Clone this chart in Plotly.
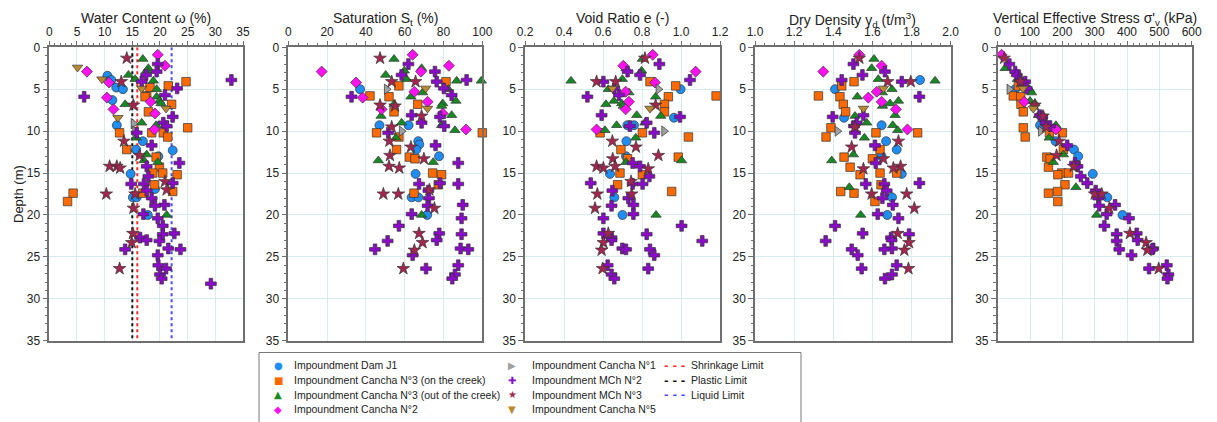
import plotly.graph_objects as go

# Page body has an 8px default margin: figure is sized/offset so it lands on the 1217x422 window.
WIN_W, WIN_H, PAGE_MARGIN = 1217, 422, 8
W, H = WIN_W - PAGE_MARGIN, WIN_H - PAGE_MARGIN

# ---------------- DATA ----------------
# Impoundment Dam J1
dam_depth = [3.4, 3.9, 4.8, 5.0, 6.3, 8.4, 9.3, 9.3, 11.2, 11.6, 12.2, 12.3, 13.0, 14.2, 15.1, 16.9, 17.9, 17.9, 20.0]
dam_w     = [10.5, 11.2, 12.1, 13.3, 11.4, None, 12.2, None, 16.9, None, 15.7, 22.3, 19.7, None, 14.7, 19.1, 15.1, 15.8, 17.8]
dam_S     = [None, None, None, 37, None, None, 47, 62, 67, 67.5, 66, None, 77.7, None, 65.6, None, 63.6, 67, 71.6]
dam_e     = [None, None, None, 0.998, None, 0.964, 0.725, 0.759, 0.72, None, None, None, 0.718, None, 0.636, None, 0.658, None, 0.70]
dam_gd    = [None, 1.843, None, 1.409, None, 1.455, 1.647, None, 1.67, None, 1.724, None, 1.647, None, 1.75, None, 1.70, None, 1.676]
dam_sv    = [None, None, None, 54, None, None, 131, None, 179, None, 236, None, 249, 244, 294, None, 339, None, 386]

# Impoundment Cancha N°3 (on the creek)
c3on_depth = [4.1, 4.6, 4.8, 5.8, 5.9, 6.8, 7.7, 9.6, 10.2, 10.2, 10.2, 10.7, 12.2, 13.1, 13.3, 14.3, 15.0, 15.0, 15.2, 16.4, 17.2, 17.4, 17.4, 18.4]
c3on_w  = [24.7, 21.5, 18.2, 17.6, 17.3, 22.1, 17.9, 25.0, 12.7, 18.5, 20.6, 21.4, 14.0, 19.3, None, 19.9, 18.7, 20.5, 23.1, 19.0, 22.3, 16.9, 4.3, 3.3]
c3on_S  = [81.3, 57.0, None, 42.1, 51.9, 66.7, 54.5, None, 45.5, None, 100, 57.0, 55.8, 62.4, 65.3, None, 74.4, None, 79.0, 77.3, None, 64.8, None, None]
c3on_e  = [0.841, 0.973, None, 1.18, 0.935, 0.915, 0.915, None, 0.585, 0.802, None, 1.038, 0.692, 0.986, 0.726, None, 0.687, None, 0.802, 0.675, 0.952, None, None, None]
c3on_gd = [1.506, 1.443, None, 1.324, 1.434, 1.451, 1.463, 1.388, 1.618, 1.831, None, 1.363, 1.639, 1.455, 1.60, 1.486, 1.639, 1.724, 1.537, 1.644, 1.438, 1.506, None, 1.613]
c3on_sv = [None, 64, None, 48, 71, 72, 79, 79, 160, 200, None, 85, 203, 152, 162, 157, 198, 219, 186, 208, 185, 157, None, 186]

# Impoundment Cancha N°3 (out of the creek)
c3out_depth = [1.4, 2.5, 2.8, 3.3, 3.8, 4.0, 4.0, 5.0, 5.4, 5.9, 6.4, 6.7, 6.8, 7.0, 8.1, 8.2, 9.0, 9.3, 9.9, 10.8, 12.8, 13.5, 13.7, 16.7, 20.0]
c3out_w  = [16.9, 17.9, 17.6, 14.3, 15.5, 18.8, None, 19.4, None, 19.4, 19.9, 20.2, 13.7, None, None, None, 16.7, 19.3, None, 15.7, 17.6, 17.1, 19.6, None, 21.2]
c3out_S  = [54.5, 68.7, 59.8, 50.2, 61, 99.5, 86.8, 82.5, 69.2, 63.2, 86.4, 79.6, 54.5, 79.0, 84.2, 47.8, 58.4, 79.0, 85.9, 55.5, None, 46.4, 74.7, None, 68.7]
c3out_e  = [0.802, 0.718, 0.798, None, 0.699, 0.436, None, 0.627, 0.733, 0.870, 0.656, 0.696, 0.615, 0.704, 0.773, 0.896, 0.815, 0.670, 0.610, 0.768, None, 1.003, 0.718, None, 0.872]
c3out_gd = [1.608, 1.596, None, None, 1.63, 1.92, None, 1.70, 1.651, 1.523, 1.733, 1.69, None, 1.652, 1.716, 1.511, 1.571, 1.704, 1.729, 1.559, 1.503, 1.392, None, 1.482, 1.54]
c3out_sv = [None, 23, None, None, 61, None, None, 98, 105, None, 100, 115, None, None, 126, None, None, 180, None, 159, 203, None, 172, 242, 306]

# Impoundment Cancha N°2
c2_depth = [0.9, 2.2, 2.9, 2.9, 4.2, 5.3, 6.0, 6.5, 7.4, 7.9, 9.8]
c2_w  = [19.6, 20.9, 6.8, None, 10.8, None, 10.4, 18.3, 11.6, 19.1, 19.0]
c2_S  = [64.1, 82.8, 17.2, 68.4, 34.9, 65, 38.3, 71.8, 48.1, 79.6, 91.6]
c2_e  = [0.855, 0.704, 1.075, None, 0.867, 0.716, None, 0.733, 0.716, None, 0.567]
c2_gd = [1.533, 1.647, 1.349, None, None, 1.622, 1.579, 1.647, 1.72, None, 1.779]
c2_sv = [12, None, None, None, 75, None, None, 82, None, None, 180]

# Impoundment Cancha N°1
c1_depth = [5.0, 9.1, 10.0]
c1_w  = [None, 15.2, 15.5]
c1_S  = [50.7, None, 58.4]
c1_e  = [0.884, None, 0.913]
c1_gd = [None, None, 1.421]
c1_sv = [36, None, 133]

# Impoundment MCh N°2
m2_depth = [2.0, 2.9, 3.3, 3.9, 4.1, 4.9, 5.7, 5.9, 8.1, 8.3, 9.0, 9.4, 10.2, 11.7, 13.8, 14.2, 15.4, 16.2, 16.3, 16.3, 17.1,
            18.0, 18.8, 18.9, 19.9, 20.4, 21.3, 22.2, 22.3, 22.7, 23.0, 23.1, 24.0, 24.1, 24.1, 24.8, 26.0, 26.4, 27.1, 27.6, 28.2]
m2_w  = [19.6, 19.4, 17.5, 32.9, 16.7, 23.1, 20.9, 6.3, None, 22.3, 20.6, 21.2, 15.8, 18.5, 23.5, 17.6, 17.9, 22.3, 17.1, 14.8, 17.6,
         18.5, 20.8, 19.1, 17.0, 19.6, 20.5, 22.6, 20.5, 16.4, 17.6, 19.9, 21.5, 23.7, 13.7, 19.6, 19.7, 21.1, 20.0, 20.3, 29.2]
m2_S  = [61.9, 75.6, 58.4, 91.9, 76.5, 80.2, 84.2, 32.6, 63.6, 78.2, 68.7, 80.4, 51.5, 75.9, 87.6, None, None, 78.2, 67.4, 87.6, 72.2,
         72.5, 89.9, 71.8, 63.6, 89.3, 57.0, 77.8, 89.3, None, 76.5, 51.2, 88.8, 92.8, 44.7, 64.1, 87.6, 71.0, 85.9, 84.5, None]
m2_e  = [0.889, 0.726, 0.790, 1.046, 0.602, 0.658, 0.682, 0.52, 0.593, 0.995, 0.824, 0.738, 0.863, None, 0.752, 0.790, 0.838, 0.537, 0.752, 0.803, 0.648,
         0.73, 0.756, 0.644, 0.756, 0.602, 1.003, 0.602, 0.824, 0.644, 0.644, 1.109, 0.699, 0.718, 0.841, 0.863, 0.624, 0.832, 0.644, 0.658, None]
m2_gd = [1.503, 1.664, 1.549, 1.443, 1.75, None, None, 1.84, 1.554, 1.397, 1.52, 1.506, 1.511, 1.613, 1.617, None, None, 1.84, 1.566, 1.661, 1.673,
         1.651, 1.704, None, 1.627, 1.733, 1.409, 1.55, 1.787, 1.695, 1.698, 1.361, 1.70, 1.661, 1.494, 1.525, 1.724, 1.545, 1.70, 1.664, None]
m2_sv = [36, 54, 59, 69, 85, 90, None, None, 130, 138, 148, 162, None, 215, 239, 247, 257, 277, None, None, 303,
         311, 363, 314, 337, 406, 330, 430, 368, None, 433, 368, 481, 376, 478, 414, 523, 468, 528, 525, None]

# Impoundment MCh N°3
m3_depth = [1.3, 4.1, 4.1, 6.9, 7.0, 8.2, 9.5, 11.2, 11.9, 12.9, 13.3, 14.2, 14.2, 14.4, 14.5, 16.0, 17.0, 17.5, 17.5, 19.2, 22.2, 23.3, 24.2, 26.4]
m3_w  = [14.0, 13.0, None, 15.2, None, None, None, 13.5, None, 16.3, None, 10.9, 12.2, 12.8, None, 20.9, 21.2, 10.3, 15.5, 15.2, 15.1, 14.9, None, 12.7]
m3_S  = [47.3, 53.3, 65.6, 47.3, 55, 68.7, 53.3, 52.1, 63.2, 52.4, 69.9, 51.9, None, 57.2, None, None, 72.7, 49, 56.7, 75.3, 67.4, 69.2, 65, 59.3]
m3_e  = [0.815, 0.567, 0.665, 0.870, None, None, None, 0.648, 0.769, 0.884, 0.650, 0.567, 0.662, 0.602, 0.832, 0.744, None, 0.571, 0.747, 0.559, 0.627, 0.602, 0.593, 0.598]
m3_gd = [1.533, 1.678, 1.796, None, None, None, 1.511, 1.733, 1.494, None, 1.656, 1.744, None, 1.707, 1.554, None, None, 1.596, 1.775, 1.814, 1.729, 1.787, 1.763, 1.784]
m3_sv = [20, 70, None, 115, None, 140, 150, 190, None, 182, None, 235, None, None, None, None, None, 300, 322, 345, 409, 459, 463, 498]

# Impoundment Cancha N°5
c5_depth = [2.4, 3.8, 4.9, 7.3, 8.4]
c5_w  = [5.1, 9.5, 16.7, 21.1, 12.4]
c5_S  = [None, None, 70.8, 71.8, None]
c5_e  = [None, None, 0.648, 0.841, None]
c5_gd = [None, None, 1.656, 1.554, None]
c5_sv = [None, None, 78, 110, None]

# Atterberg limits (water content, %)
shrinkage_limit = 15.9
plastic_limit = 15.0
liquid_limit = 22.1
depth_range = [0, 35]

# Axis definitions
panel_titles = ["Water Content ω (%)", "Saturation S<sub>t</sub> (%)", "Void Ratio e (-)",
                "Dry Density γ<sub>d</sub> (t/m<sup>3</sup>)", "Vertical Effective Stress σ'<sub>v</sub> (kPa)"]
x_ranges = [[0, 35], [0, 100], [0.2, 1.2], [1.0, 2.0], [0, 600]]
x_dticks = [5, 20, 0.2, 0.2, 100]
x_minor = [1, 5, 0.05, 0.05, 20]
x_formats = ["d", "d", ".1f", ".1f", "d"]

series = [
    ("Impoundment Dam J1", "circle", "#1E8EF5", 9, dam_depth, [dam_w, dam_S, dam_e, dam_gd, dam_sv]),
    ("Impoundment Cancha N°3 (on the creek)", "square", "#FF6A00", 8.5, c3on_depth, [c3on_w, c3on_S, c3on_e, c3on_gd, c3on_sv]),
    ("Impoundment Cancha N°3 (out of the creek)", "triangle-up", "#168A22", 9, c3out_depth, [c3out_w, c3out_S, c3out_e, c3out_gd, c3out_sv]),
    ("Impoundment Cancha N°2", "diamond", "#FF10F0", 8.5, c2_depth, [c2_w, c2_S, c2_e, c2_gd, c2_sv]),
    ("Impoundment Cancha N°1", "triangle-right", "#A0A0A0", 9, c1_depth, [c1_w, c1_S, c1_e, c1_gd, c1_sv]),
    ("Impoundment MCh N°2", "cross", "#8A0AC8", 9, m2_depth, [m2_w, m2_S, m2_e, m2_gd, m2_sv]),
    ("Impoundment MCh N°3", "star", "#A3264E", 9.5, m3_depth, [m3_w, m3_S, m3_e, m3_gd, m3_sv]),
    ("Impoundment Cancha N°5", "triangle-down", "#BC8A2E", 9, c5_depth, [c5_w, c5_S, c5_e, c5_gd, c5_sv]),
]
limits = [("Shrinkage Limit", shrinkage_limit, "#FF2A2A"),
          ("Plastic Limit", plastic_limit, "#111111"),
          ("Liquid Limit", liquid_limit, "#4A4AFF")]

# ---------------- LAYOUT GEOMETRY (window pixels) ----------------
px_left = [49.3, 288.3, 525.0, 755.0, 997.7]
px_right = [243.0, 482.3, 720.0, 950.7, 1191.7]
py_top, py_bot = 47.3, 340.7


def fx(px):
    return (px - PAGE_MARGIN) / W


def fy(py):
    return 1 - (py - PAGE_MARGIN) / H


FONT = "Liberation Sans, Arial, sans-serif"
GRID = "#d6ecee"
FRAME = "#6f6f6f"

fig = go.Figure()

# limit lines in panel 1
for name, val, col in limits:
    fig.add_trace(go.Scatter(x=[val, val], y=depth_range, mode="lines",
                             line=dict(color=col, width=2, dash="3px,3px"),
                             xaxis="x", yaxis="y", showlegend=False, hoverinfo="skip"))

for name, sym, col, size, depth, vals in series:
    for i, v in enumerate(vals):
        ax = "" if i == 0 else str(i + 1)
        fig.add_trace(go.Scatter(
            x=v, y=depth, mode="markers", name=name, showlegend=False,
            xaxis="x" + ax, yaxis="y" + ax, cliponaxis=False,
            marker=dict(symbol=sym, color=col, size=size,
                        line=dict(color="#333333", width=0.7))))

layout = dict(width=W, height=H, margin=dict(l=0, r=0, t=0, b=0, autoexpand=False),
              paper_bgcolor="white", plot_bgcolor="white",
              font=dict(family=FONT, size=12, color="#222"), showlegend=False)

ydom = [fy(py_bot), fy(py_top)]
annotations = []
for i in range(5):
    ax = "" if i == 0 else str(i + 1)
    xdom = [fx(px_left[i]), fx(px_right[i])]
    layout["xaxis" + ax] = dict(
        domain=xdom, anchor="y" + ax, side="top", range=x_ranges[i], dtick=x_dticks[i],
        tick0=x_ranges[i][0], tickformat=x_formats[i], automargin=False,
        showgrid=True, gridcolor=GRID, gridwidth=1, zeroline=False,
        showline=True, linecolor=FRAME, linewidth=1.5, mirror=True,
        ticks="outside", ticklen=5, tickcolor=FRAME, tickwidth=1,
        minor=dict(ticks="outside", dtick=x_minor[i], ticklen=2.5, tickcolor=FRAME, showgrid=False),
        tickfont=dict(size=12, color="#222"))
    layout["yaxis" + ax] = dict(
        domain=ydom, anchor="x" + ax, range=[35, 0], dtick=5, automargin=False,
        showgrid=True, gridcolor=GRID, gridwidth=1, zeroline=False,
        showline=True, linecolor=FRAME, linewidth=1.5, mirror=True,
        ticks="outside", ticklen=5, tickcolor=FRAME, tickwidth=1,
        minor=dict(ticks="outside", dtick=1, ticklen=2.5, tickcolor=FRAME, showgrid=False),
        tickfont=dict(size=12, color="#222"))
    annotations.append(dict(text=panel_titles[i], xref="paper", yref="paper",
                            x=(xdom[0] + xdom[1]) / 2, y=fy(8.5), xanchor="center", yanchor="top",
                            borderpad=0, showarrow=False, font=dict(size=14, color="#222")))

annotations.append(dict(text="Depth (m)", xref="paper", yref="paper", x=fx(18), y=fy(194),
                        textangle=-90, showarrow=False, font=dict(size=13, color="#222"),
                        xanchor="center", yanchor="middle"))

# Legend (manual, three columns)
glyphs = {"circle": "●", "square": "■", "triangle-up": "▲", "diamond": "◆",
          "triangle-right": "▶", "cross": "✚", "star": "★", "triangle-down": "▼"}
row_y = [365, 380, 394.5, 409]
cols = [(278, 292, series[0:4]), (512, 530, series[4:8])]
for mx, tx, items in cols:
    for r, (name, sym, col, size, depth, vals) in enumerate(items):
        annotations.append(dict(text=glyphs[sym], xref="paper", yref="paper", x=fx(mx), y=fy(row_y[r]),
                                xanchor="center", yanchor="middle", showarrow=False,
                                font=dict(size=10, color=col, family="DejaVu Sans")))
        annotations.append(dict(text=name, xref="paper", yref="paper", x=fx(tx), y=fy(row_y[r]),
                                xanchor="left", yanchor="middle", showarrow=False,
                                font=dict(size=10.5, color="#222")))
for r, (name, val, col) in enumerate(limits):
    annotations.append(dict(text="<b>- - -</b>", xref="paper", yref="paper", x=fx(674), y=fy(row_y[r]),
                            xanchor="center", yanchor="middle", showarrow=False,
                            font=dict(size=11, color=col, family="DejaVu Sans")))
    annotations.append(dict(text=name, xref="paper", yref="paper", x=fx(689), y=fy(row_y[r]),
                            xanchor="left", yanchor="middle", showarrow=False,
                            font=dict(size=10.5, color="#222")))

layout["annotations"] = annotations
layout["shapes"] = [dict(type="rect", xref="paper", yref="paper", x0=fx(259), x1=fx(801),
                         y0=fy(440), y1=fy(352.5), line=dict(color="#777", width=1))]

fig.update_layout(**layout)
fig.write_html("out.html")
